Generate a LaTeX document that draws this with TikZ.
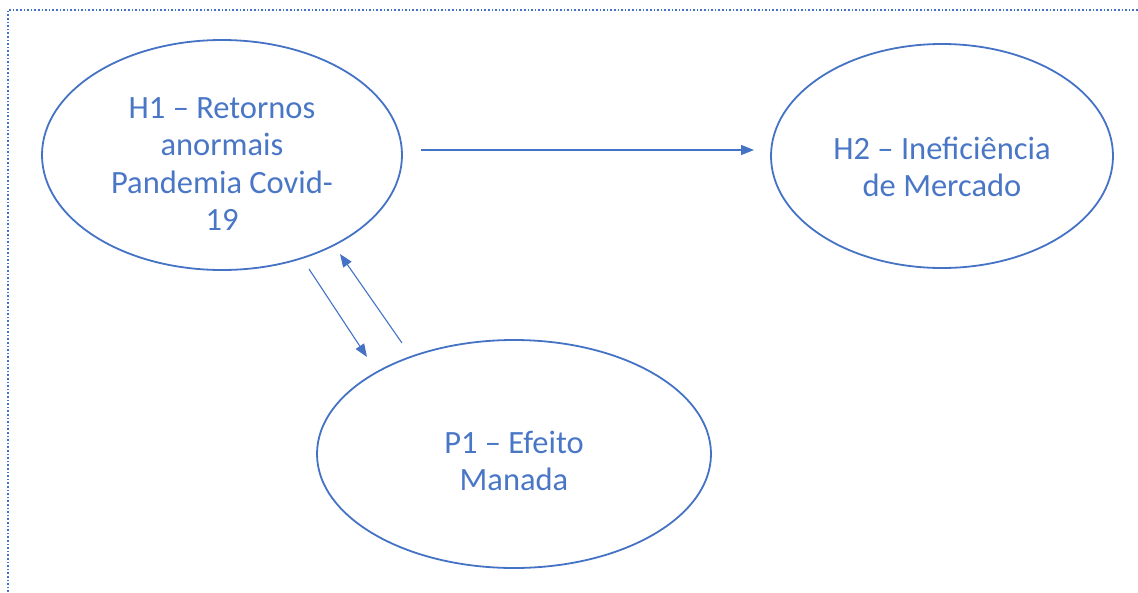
\documentclass[tikz,border=0pt]{standalone}
\usepackage{fontspec}
\setmainfont{Carlito}
\usetikzlibrary{arrows.meta,shapes.geometric}
\definecolor{accent}{HTML}{4472C4}
\definecolor{textblue}{HTML}{4A76C6}
\tikzset{
  bubble/.style={draw=accent, line width=1.8pt, ellipse, inner sep=0pt},
  lbl/.style={text=textblue, align=center, font=\fontsize{32.5}{37.5}\selectfont},
  arr/.style={draw=accent, line width=1.1pt, -{Triangle[length=13pt,width=10pt]}},
  frame/.style={draw=accent, line width=1.6pt, dotted}
}
\begin{document}
\begin{tikzpicture}[x=1pt,y=-1pt]
\useasboundingbox (0,0) rectangle (1138,592);
\draw[frame] (8,592) -- (8,10) -- (1138,10);
\node[bubble, minimum width=360pt, minimum height=230pt] (h1) at (222,155) {};
\node[bubble, minimum width=342pt, minimum height=224pt] (h2) at (942,156) {};
\node[bubble, minimum width=394pt, minimum height=228pt] (p1) at (514,454) {};
\node[lbl] (t1) at (222,164) {H1 – Retornos\\anormais\\Pandemia Covid-\\19};
\node[lbl] (t2) at (942,167) {H2 – Ineficiência\\de Mercado};
\node[lbl] (t3) at (514,461) {P1 – Efeito\\Manada};
\draw[arr] ([shift={(199,-5)}]h1.center) -- ([shift={(-188,-6)}]h2.center);
\draw[arr] ([shift={(87,114)}]h1.center) -- ([shift={(-147,-97)}]p1.center);
\draw[arr] ([shift={(-112,-111)}]p1.center) -- ([shift={(118,99)}]h1.center);
\end{tikzpicture}
\end{document}
